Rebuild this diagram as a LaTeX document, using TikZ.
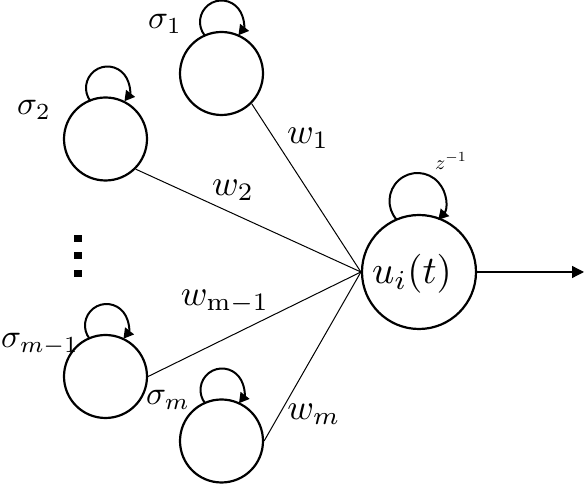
\documentclass[tikz,border=0pt]{standalone}
\usetikzlibrary{arrows.meta}
\begin{document}
\begin{tikzpicture}[x=1pt,y=1pt,
  neuron/.style={circle,draw,line width=2.2pt,inner sep=0pt},
  small/.style={neuron,minimum size=83pt},
  big/.style={neuron,minimum size=114pt},
  conn/.style={line width=1pt},
  selfloop/.style={line width=2pt,-{Triangle[length=10pt,width=11pt]}},
  lab/.style={inner sep=0pt,scale=3.3},
  wlab/.style={inner sep=0pt,scale=3.6},
  dotsq/.style={fill=black,minimum width=8pt,minimum height=7pt,inner sep=0pt}]
\useasboundingbox (0,0) rectangle (584,484);
% nodes
\node[small] (s1) at (221.5,410.5) {};
\node[small] (s2) at (105.5,345) {};
\node[small] (sm1) at (105.5,107.5) {};
\node[small] (sm) at (221.5,43) {};
\node[big] (u) at (419,212) {};
\node[inner sep=0pt,scale=3.9] (ut) at (412,210) {$u_i(t)$};
\coordinate (out) at (584,212);
% dots
\node[dotsq] (d1) at (78,245.5) {};
\node[dotsq] (d2) at (78,228) {};
\node[dotsq] (d3) at (78,210.5) {};
% labels
\node[lab] (ls1) at (165,460) {$\sigma_1$};
\node[lab] (ls2) at (34,374) {$\sigma_2$};
\node[lab] (lsm1) at (40,140) {$\sigma_{m-1}$};
\node[lab] (lsm) at (168,84) {$\sigma_m$};
\node[wlab] (lw1) at (308,346) {$w_1$};
\node[wlab] (lw2) at (233,294) {$w_2$};
\node[wlab] (lwm1) at (225,182) {$w_{\mathrm{m-1}}$};
\node[wlab] (lwm) at (314,70) {$w_m$};
\node[inner sep=0pt,scale=2] (lz) at (451,323) {$z^{-1}$};
% connectors
\draw[conn] (s1.-45) -- (u.west);
\draw[conn] (s2.-45) -- (u.west);
\draw[conn] (sm1.east) -- (u.west);
\draw[conn] (sm.east) -- (u.west);
\draw[line width=1.3pt,-{Triangle[length=12pt,width=12pt]}] (u.east) -- (out);
% self loops
\coordinate (c1) at ([yshift=51.5pt]s1.center);
\coordinate (c2) at ([shift={(2pt,51pt)}]s2.center);
\coordinate (c3) at ([shift={(1pt,51pt)}]sm1.center);
\coordinate (c4) at ([shift={(0.5pt,51pt)}]sm.center);
\coordinate (c5) at ([shift={(-1.5pt,71pt)}]u.center);
\draw[selfloop] (c1) ++(218:21.5) arc[start angle=218,end angle=-38,radius=21.5];
\draw[selfloop] (c2) ++(218:21.5) arc[start angle=218,end angle=-38,radius=21.5];
\draw[selfloop] (c3) ++(218:21.5) arc[start angle=218,end angle=-38,radius=21.5];
\draw[selfloop] (c4) ++(218:21.5) arc[start angle=218,end angle=-38,radius=21.5];
\draw[selfloop] (c5) ++(222:28) arc[start angle=222,end angle=-42,radius=28];
\end{tikzpicture}
\end{document}
